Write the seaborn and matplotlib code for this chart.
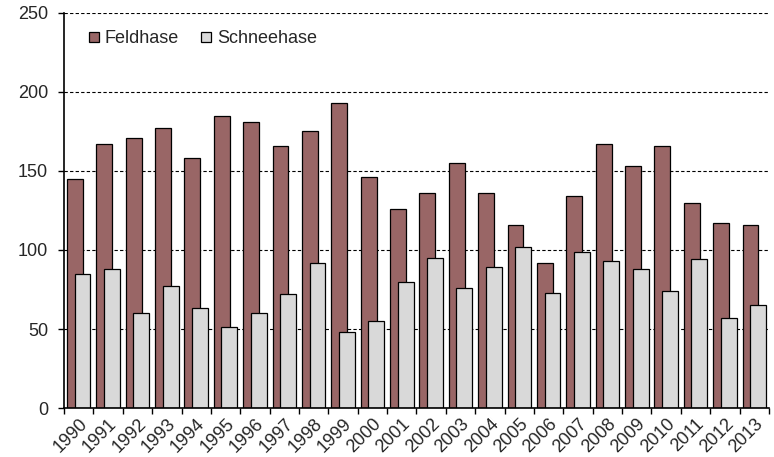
import numpy as np
import pandas as pd
import matplotlib
matplotlib.use("Agg")
import matplotlib.pyplot as plt
import matplotlib.transforms as mtransforms
from matplotlib.patches import Patch
import seaborn as sns

years = [str(y) for y in range(1990, 2014)]
feldhase = [145, 167, 171, 177, 158, 185, 181, 166, 175, 193, 146, 126,
            136, 155, 136, 116, 92, 134, 167, 153, 166, 130, 117, 116]
schneehase = [85, 88, 60, 77, 63, 51, 60, 72, 92, 48, 55, 80,
              95, 76, 89, 102, 73, 99, 93, 88, 74, 94, 57, 65]
series_names = ["Feldhase", "Schneehase"]
series_colors = ["#996666", "#D9D9D9"]
y_ticks = [0, 50, 100, 150, 200, 250]

sns.set_theme(style="white")
plt.rcParams["font.family"] = ["Liberation Sans", "DejaVu Sans"]
FS = 13

fig = plt.figure(figsize=(7.74, 4.57), dpi=100)
ax = fig.add_axes([0.0827, 0.1072, 0.9108, 0.8644])

idx = np.arange(len(years))
shift = 0.13
bar_w = 0.54

df = pd.DataFrame({"Jahr": years, series_names[0]: feldhase, series_names[1]: schneehase})

# dashed horizontal grid behind the bars
for v in y_ticks[1:]:
    ax.axhline(v, color="black", lw=0.8, ls=(0, (3, 2)), zorder=0)

# overlapping bars: each series is offset slightly from the category centre
for name, color, off in zip(series_names, series_colors, (-shift, shift)):
    sns.barplot(x=idx + off, y=df[name], native_scale=True, width=bar_w,
                color=color, saturation=1, edgecolor="black", linewidth=0.9,
                errorbar=None, orient="x", ax=ax, zorder=2)

ax.set_xlim(-0.5, len(years) - 0.5)
ax.set_ylim(0, 250)
ax.set_yticks(y_ticks)
ax.set_yticklabels([str(v) for v in y_ticks], fontsize=FS)

# major ticks at category boundaries, labels at the centres
ax.set_xticks(np.arange(len(years) + 1) - 0.5)
ax.set_xticklabels([])
ax.set_xticks(idx, minor=True)
labels = ax.set_xticklabels(years, minor=True, rotation=45, ha="right", va="top",
                            rotation_mode="anchor", fontsize=FS)
nudge = mtransforms.ScaledTranslation(1 / 100, 0, fig.dpi_scale_trans)
for lab in labels:
    lab.set_transform(lab.get_transform() + nudge)
ax.tick_params(axis="x", which="major", direction="out", length=4, width=1,
               color="black", bottom=True)
ax.tick_params(axis="x", which="minor", length=0, pad=5.5)
ax.tick_params(axis="y", direction="out", length=4.5, width=1, color="black",
               left=True, pad=7)
ax.set_xlabel("")
ax.set_ylabel("")

for s in ["top", "right"]:
    ax.spines[s].set_visible(False)
for s in ["left", "bottom"]:
    ax.spines[s].set_color("black")
    ax.spines[s].set_linewidth(1.2)

handles = [Patch(facecolor=c, edgecolor="black", linewidth=0.9) for c in series_colors]
ax.legend(handles, series_names, loc="upper left", bbox_to_anchor=(0.012, 0.997),
          ncol=2, frameon=False, fontsize=FS, handlelength=0.55,
          handleheight=0.55, handletextpad=0.35, columnspacing=1.2)

fig.savefig("out.png", dpi=100)
